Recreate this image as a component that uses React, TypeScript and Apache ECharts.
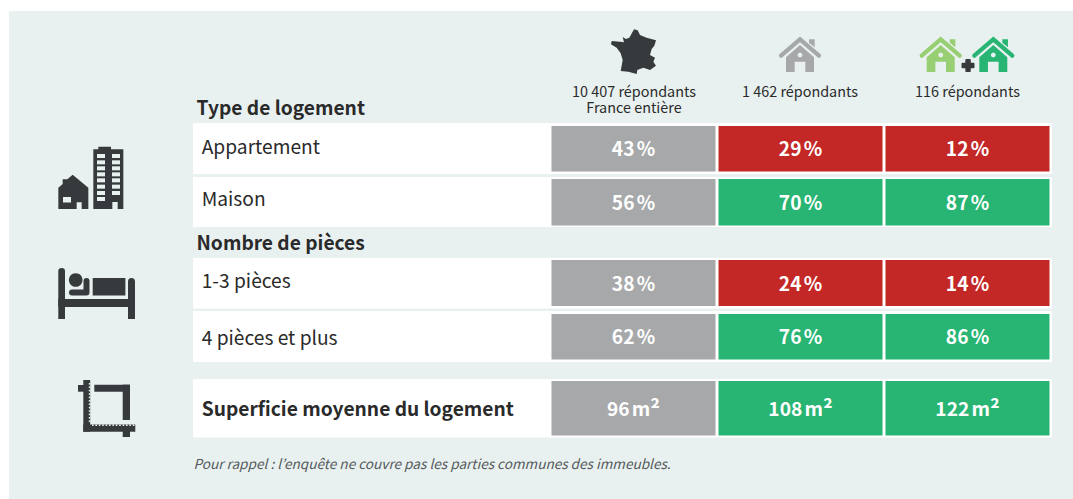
import React, { useEffect, useRef } from "react";
import * as echarts from "echarts";

// ---- data ----
const columns = ["France entière", "Répondants", "Sous-groupe"];
const rowLabels = ["Appartement", "Maison", "1-3 pièces", "4 pièces et plus", "Superficie moyenne du logement"];
const franceValues = [43, 56, 38, 62, 96];
const localValues = [29, 70, 24, 76, 108];
const groupValues = [12, 87, 14, 86, 122];
const rowUnits = ["%", "%", "%", "%", "m²"];
const columnHeaders = ["10 407 répondants\nFrance entière", "1 462 répondants", "116 répondants"];
const sectionTitles = ["Type de logement", "Nombre de pièces"];
const footnote = "Pour rappel : l’enquête ne couvre pas les parties communes des immeubles.";

// ---- layout & style ----
const W = 1073;
const H = 499;
const FONT = '"Noto Sans CJK KR", "Noto Sans", sans-serif';
const PANEL = "#e8f1f0";
const DARK = "#373a3c";
const INK = "#2a2a2a";
const GREY = "#a7a8aa";
const RED = "#c32826";
const GREEN = "#28b573";
const LIGHT_GREEN = "#97cf72";
const rowBands: number[][] = [[123, 174], [177, 227], [258, 308.5], [311, 362], [379, 437.5]];
const cellBands: number[][] = [[126, 171.5], [179, 225.5], [260, 306], [314, 359.5], [381, 435.5]];
const rowTextY = [145.5, 197.5, 280, 336.5, 407.5];

const cellColor = (col: number, row: number, value: number) =>
  col === 0 ? GREY : value > franceValues[row] ? GREEN : RED;

const rect = (x: number, y: number, width: number, height: number, fill: string, r: any = 0) => ({
  type: "rect",
  z: 1,
  shape: { x, y, width, height, r },
  style: { fill },
});
const poly = (points: number[][], fill: string) => ({
  type: "polygon",
  z: 1,
  shape: { points },
  style: { fill },
});
const label = (text: string, x: number, y: number, size: number, weight: number | string, fill: string, align = "left", fontStyle = "normal") => ({
  type: "text",
  z: 3,
  x,
  y,
  style: { text, fill, font: `${fontStyle} ${weight} ${size}px ${FONT}`, align, verticalAlign: "middle", lineHeight: 16 },
});

function houseIcon(cx: number, color: string) {
  const X = (v: number) => cx + (v - 90) / 3;
  const Y = (v: number) => 30 + v / 3;
  const pts = (list: number[][]) => list.map(([a, b]) => [X(a), Y(b)]);
  return [
    poly(pts([[48, 126], [48, 82], [90, 45], [132, 82], [132, 126], [106, 126], [106, 95], [74, 95], [74, 126]]), color),
    poly(pts([[117, 28], [134, 28], [134, 52], [117, 38]]), color),
    {
      type: "polyline",
      z: 1,
      shape: { points: pts([[33, 77], [90, 28], [147, 77]]) },
      style: { stroke: color, lineWidth: 4.2, fill: "none", lineCap: "round", lineJoin: "miter" },
    },
    { type: "circle", z: 2, shape: { cx: X(90), cy: Y(75), r: 2.4 }, style: { fill: PANEL } },
  ];
}

function buildingIcon() {
  const X = (v: number) => 40 + v / 3;
  const Y = (v: number) => 140 + v / 3;
  const out: any[] = [];
  out.push(
    poly(
      [[160, 28], [175, 28], [175, 20], [213, 20], [213, 28], [250, 28], [250, 207], [233, 207], [233, 186], [217, 186], [217, 207], [160, 207]].map(([a, b]) => [X(a), Y(b)]),
      DARK
    )
  );
  const windowTops = [42, 61, 79, 97, 115, 134, 153, 171];
  windowTops.forEach((t, i) => {
    out.push({ ...rect(X(171), Y(t), 8, 4, PANEL), z: 2 });
    if (i < 7) out.push({ ...rect(X(216), Y(t), 8, 4, PANEL), z: 2 });
  });
  out.push(
    poly(
      [[55, 143], [68, 132], [68, 118], [82, 118], [98, 104], [145, 143], [145, 207], [125, 207], [125, 187], [110, 187], [110, 207], [55, 207]].map(([a, b]) => [X(a), Y(b)]),
      DARK
    )
  );
  out.push({ ...rect(X(69), Y(171), 8, 5.5, PANEL), z: 2 });
  return out;
}

function bedIcon() {
  return [
    rect(58.3, 268, 6.7, 51, DARK, [3.3, 3.3, 0, 0]),
    rect(128, 278, 7, 41, DARK, [3.5, 3.5, 0, 0]),
    rect(58.3, 299, 76, 8, DARK),
    { type: "circle", z: 1, shape: { cx: 75.7, cy: 280, r: 6.8 }, style: { fill: DARK } },
    {
      type: "polyline",
      z: 1,
      shape: { points: [[72, 292.5], [86.5, 292.5], [86.5, 281]] },
      style: { stroke: DARK, lineWidth: 6, fill: "none", lineCap: "round", lineJoin: "round" },
    },
    rect(92.7, 278, 32.7, 17.5, DARK),
  ];
}

function cropIcon() {
  const out: any[] = [
    rect(83.3, 380, 6.9, 51.7, DARK),
    rect(78, 385, 6, 6.7, DARK),
    rect(83.3, 424.6, 52, 7.1, DARK),
    rect(122.7, 430, 7.3, 7, DARK),
    rect(94.3, 384.7, 35.7, 7, DARK),
    rect(122.7, 384.7, 7.3, 35.3, DARK),
  ];
  for (let y = 383; y < 423; y += 3.4) out.push({ ...rect(88.8, y, 1.5, 1.6, PANEL), z: 2 });
  for (let x = 92; x < 134; x += 3.4) out.push({ ...rect(x, 424.5, 1.6, 1.5, PANEL), z: 2 });
  return out;
}

const francePoints = [
  [102, 13], [113, 16], [120, 30], [140, 38], [168, 46], [163, 62], [155, 72], [150, 90], [165, 98], [160, 110],
  [168, 122], [150, 135], [130, 128], [112, 135], [110, 147], [85, 140], [62, 138], [68, 105], [62, 85], [50, 68],
  [33, 58], [35, 48], [60, 50], [72, 52], [68, 36], [78, 42], [88, 38],
].map(([a, b]) => [600 + a / 3, 25 + b / 3]);

export default function App() {
  const ref = useRef<HTMLDivElement>(null);
  useEffect(() => {
    if (!ref.current) return;
    const chart = echarts.init(ref.current, undefined, { renderer: "svg" });
    const yAxisBase = {
      type: "value",
      min: 0,
      max: H,
      inverse: true,
      show: false,
    };
    const cellData: number[][] = [];
    [franceValues, localValues, groupValues].forEach((vals, col) =>
      vals.forEach((v, row) => cellData.push([col, row, v]))
    );
    const graphics: any[] = [
      { type: "rect", z: 0, shape: { x: 9, y: 11, width: W - 9, height: H - 11 }, style: { fill: PANEL } },
      label(sectionTitles[0], 196.5, 107, 19.2, 700, INK),
      label(sectionTitles[1], 196.5, 242, 19.2, 700, INK),
      label(columnHeaders[0], 634, 98.5, 14.4, 400, INK, "center"),
      label(columnHeaders[1], 800, 90.5, 14.4, 400, INK, "center"),
      label(columnHeaders[2], 967.5, 90.5, 14.4, 400, INK, "center"),
      label(footnote, 193.5, 462.5, 13.6, 400, "#55595b", "left", "italic"),
      poly(francePoints, DARK),
      ...houseIcon(800, GREY),
      ...houseIcon(940.7, LIGHT_GREEN),
      ...houseIcon(993.3, GREEN),
      rect(961.5, 62.8, 13, 5.5, DARK, 1),
      rect(965.3, 59, 5.5, 13, DARK, 1),
      ...buildingIcon(),
      ...bedIcon(),
      ...cropIcon(),
    ];
    chart.setOption({
      animation: false,
      backgroundColor: "#ffffff",
      grid: [
        { left: 550, width: 501, top: 0, height: H },
        { left: 193, width: 859, top: 0, height: H },
      ],
      xAxis: [
        { type: "category", gridIndex: 0, data: columns, show: false },
        { type: "category", gridIndex: 1, data: ["ligne"], show: false },
      ],
      yAxis: [
        { ...yAxisBase, gridIndex: 0 },
        { ...yAxisBase, gridIndex: 1 },
      ],
      graphic: { elements: graphics },
      series: [
        {
          type: "custom",
          name: "Lignes",
          xAxisIndex: 1,
          yAxisIndex: 1,
          z: 2,
          silent: true,
          data: rowLabels.map((_, i) => [0, i]),
          encode: { x: 0 },
          renderItem: (_p: any, api: any) => {
            const i = api.value(1);
            const [cx, top] = api.coord([0, rowBands[i][0]]);
            const [, bottom] = api.coord([0, rowBands[i][1]]);
            const bw = api.size([1, 0])[0];
            const left = cx - bw / 2;
            const bold = i === 4;
            return {
              type: "group",
              children: [
                { type: "rect", shape: { x: left, y: top, width: bw, height: bottom - top }, style: { fill: "#ffffff" } },
                {
                  type: "text",
                  x: left + 8.7,
                  y: rowTextY[i],
                  style: {
                    text: rowLabels[i],
                    fill: INK,
                    font: `${bold ? 700 : 400} 19.2px ${FONT}`,
                    align: "left",
                    verticalAlign: "middle",
                  },
                },
              ],
            };
          },
        },
        {
          type: "custom",
          name: "Valeurs",
          xAxisIndex: 0,
          yAxisIndex: 0,
          z: 3,
          silent: true,
          data: cellData,
          encode: { x: 0 },
          renderItem: (_p: any, api: any) => {
            const col = api.value(0);
            const row = api.value(1);
            const value = api.value(2);
            const [cx, top] = api.coord([col, cellBands[row][0]]);
            const [, bottom] = api.coord([col, cellBands[row][1]]);
            const width = api.size([1, 0])[0] - 3;
            const isArea = rowUnits[row] === "m²";
            const font = `700 19.2px ${FONT}`;
            return {
              type: "group",
              children: [
                {
                  type: "rect",
                  shape: { x: cx - width / 2, y: top, width, height: bottom - top },
                  style: { fill: cellColor(col, row, value) },
                },
                {
                  type: "text",
                  x: cx,
                  y: (top + bottom) / 2 - 0.5,
                  style: isArea
                    ? {
                        text: `{a|${value}\u202fm}{b|²}`,
                        align: "center",
                        verticalAlign: "middle",
                        rich: {
                          a: { fill: "#ffffff", fontSize: 19.2, fontWeight: 700, fontFamily: FONT },
                          b: { fill: "#ffffff", fontSize: 23, fontWeight: 700, fontFamily: FONT },
                        },
                      }
                    : {
                        text: `${value}\u202f${rowUnits[row]}`,
                        fill: "#ffffff",
                        font,
                        align: "center",
                        verticalAlign: "middle",
                      },
                },
              ],
            };
          },
        },
      ],
    });
    return () => chart.dispose();
  }, []);
  return <div ref={ref} style={{ position: "absolute", left: 0, top: 0, width: W, height: H }} />;
}
